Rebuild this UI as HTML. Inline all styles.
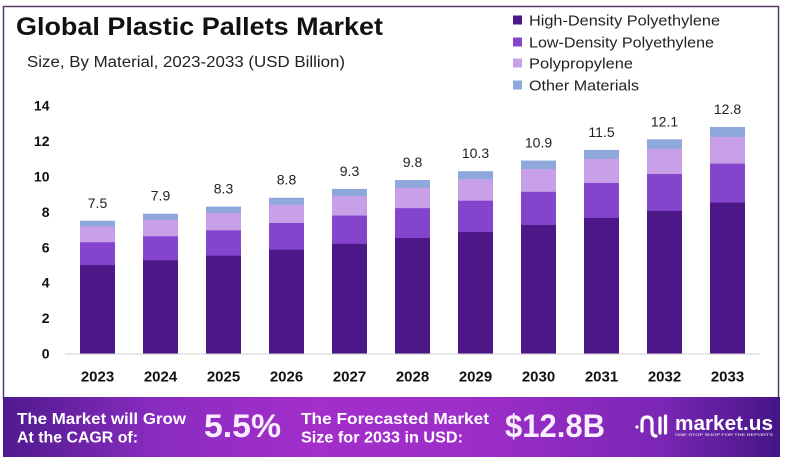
<!DOCTYPE html>
<html>
<head>
<meta charset="utf-8">
<style>
html,body{margin:0;padding:0;background:#fff;}
svg{display:block;}
text{font-family:"Liberation Sans",sans-serif;}
</style>
</head>
<body>
<svg width="785" height="465" viewBox="0 0 785 465" xmlns="http://www.w3.org/2000/svg">
<defs>
<linearGradient id="bn" x1="0" y1="0" x2="1" y2="0">
<stop offset="0" stop-color="#4f1a8e"/>
<stop offset="0.2" stop-color="#8a2cc0"/>
<stop offset="0.4" stop-color="#a32ec9"/>
<stop offset="0.62" stop-color="#9c2ec8"/>
<stop offset="0.85" stop-color="#7a26b4"/>
<stop offset="1" stop-color="#441686"/>
</linearGradient>
</defs>
<rect width="785" height="465" fill="#fff"/>
<!-- frame -->
<rect x="3.5" y="6.5" width="775" height="392" fill="none" stroke="#5a3a6a" stroke-width="1.5"/>

<!-- title -->
<text x="16" y="35" font-size="25" font-weight="bold" fill="#111" textLength="367" lengthAdjust="spacingAndGlyphs">Global Plastic Pallets Market</text>
<text x="27" y="67" font-size="15.5" fill="#222" textLength="318" lengthAdjust="spacingAndGlyphs">Size, By Material, 2023-2033 (USD Billion)</text>

<!-- legend -->
<rect x="513" y="15.5" width="9" height="9" fill="#4c1888"/>
<text x="529" y="25.5" font-size="15" fill="#222" textLength="191" lengthAdjust="spacingAndGlyphs">High-Density Polyethylene</text>
<rect x="513" y="37.5" width="9" height="9" fill="#8444cc"/>
<text x="529" y="47.5" font-size="15" fill="#222" textLength="185" lengthAdjust="spacingAndGlyphs">Low-Density Polyethylene</text>
<rect x="513" y="58.5" width="9" height="9" fill="#c8a0e8"/>
<text x="529" y="68.5" font-size="15" fill="#222" textLength="104" lengthAdjust="spacingAndGlyphs">Polypropylene</text>
<rect x="513" y="80.5" width="9" height="9" fill="#8ea8dc"/>
<text x="529" y="90.5" font-size="15" fill="#222" textLength="110" lengthAdjust="spacingAndGlyphs">Other Materials</text>

<!-- y axis labels -->
<g font-size="14" font-weight="bold" fill="#111" text-anchor="end">
<text x="49.5" y="358.5">0</text>
<text x="49.5" y="323.1">2</text>
<text x="49.5" y="287.7">4</text>
<text x="49.5" y="252.3">6</text>
<text x="49.5" y="216.9">8</text>
<text x="49.5" y="181.5">10</text>
<text x="49.5" y="146.1">12</text>
<text x="49.5" y="110.7">14</text>
</g>

<!-- baseline -->
<line x1="65" y1="354" x2="760" y2="354" stroke="#d0d0d0" stroke-width="1"/>

<!-- bars -->
<g>
<!-- 2023 -->
<rect x="80" y="220.75" width="35" height="132.75" fill="#8ea8dc"/>
<rect x="80" y="226.6" width="35" height="126.9" fill="#c8a0e8"/>
<rect x="80" y="242.26" width="35" height="111.24" fill="#8444cc"/>
<rect x="80" y="265.09" width="35" height="88.41" fill="#4c1888"/>
<!-- 2024 -->
<rect x="143" y="213.67" width="35" height="139.83" fill="#8ea8dc"/>
<rect x="143" y="219.82" width="35" height="133.68" fill="#c8a0e8"/>
<rect x="143" y="236.32" width="35" height="117.18" fill="#8444cc"/>
<rect x="143" y="260.37" width="35" height="93.13" fill="#4c1888"/>
<!-- 2025 -->
<rect x="206" y="206.59" width="35" height="146.91" fill="#8ea8dc"/>
<rect x="206" y="213.05" width="35" height="140.45" fill="#c8a0e8"/>
<rect x="206" y="230.39" width="35" height="123.11" fill="#8444cc"/>
<rect x="206" y="255.66" width="35" height="97.84" fill="#4c1888"/>
<!-- 2026 -->
<rect x="269" y="197.74" width="35" height="155.76" fill="#8ea8dc"/>
<rect x="269" y="204.59" width="35" height="148.91" fill="#c8a0e8"/>
<rect x="269" y="222.97" width="35" height="130.53" fill="#8444cc"/>
<rect x="269" y="249.76" width="35" height="103.74" fill="#4c1888"/>
<!-- 2027 -->
<rect x="332" y="188.89" width="35" height="164.61" fill="#8ea8dc"/>
<rect x="332" y="196.14" width="35" height="157.36" fill="#c8a0e8"/>
<rect x="332" y="215.56" width="35" height="137.94" fill="#8444cc"/>
<rect x="332" y="243.87" width="35" height="109.63" fill="#4c1888"/>
<!-- 2028 -->
<rect x="395" y="180.04" width="35" height="173.46" fill="#8ea8dc"/>
<rect x="395" y="187.67" width="35" height="165.83" fill="#c8a0e8"/>
<rect x="395" y="208.14" width="35" height="145.36" fill="#8444cc"/>
<rect x="395" y="237.98" width="35" height="115.52" fill="#4c1888"/>
<!-- 2029 -->
<rect x="458" y="171.19" width="35" height="182.31" fill="#8ea8dc"/>
<rect x="458" y="179.21" width="35" height="174.29" fill="#c8a0e8"/>
<rect x="458" y="200.72" width="35" height="152.78" fill="#8444cc"/>
<rect x="458" y="232.08" width="35" height="121.42" fill="#4c1888"/>
<!-- 2030 -->
<rect x="521" y="160.57" width="35" height="192.93" fill="#8ea8dc"/>
<rect x="521" y="169.06" width="35" height="184.44" fill="#c8a0e8"/>
<rect x="521" y="191.83" width="35" height="161.67" fill="#8444cc"/>
<rect x="521" y="225.01" width="35" height="128.49" fill="#4c1888"/>
<!-- 2031 -->
<rect x="584" y="149.95" width="35" height="203.55" fill="#8ea8dc"/>
<rect x="584" y="158.91" width="35" height="194.59" fill="#c8a0e8"/>
<rect x="584" y="182.93" width="35" height="170.57" fill="#8444cc"/>
<rect x="584" y="217.94" width="35" height="135.56" fill="#4c1888"/>
<!-- 2032 -->
<rect x="647" y="139.33" width="35" height="214.17" fill="#8ea8dc"/>
<rect x="647" y="148.75" width="35" height="204.75" fill="#c8a0e8"/>
<rect x="647" y="174.02" width="35" height="179.48" fill="#8444cc"/>
<rect x="647" y="210.86" width="35" height="142.64" fill="#4c1888"/>
<!-- 2033 -->
<rect x="710" y="126.94" width="35" height="226.56" fill="#8ea8dc"/>
<rect x="710" y="136.91" width="35" height="216.59" fill="#c8a0e8"/>
<rect x="710" y="163.64" width="35" height="189.86" fill="#8444cc"/>
<rect x="710" y="202.61" width="35" height="150.89" fill="#4c1888"/>
</g>

<!-- value labels -->
<g font-size="14" fill="#222" text-anchor="middle">
<text x="97.5" y="207.75">7.5</text>
<text x="160.5" y="200.67">7.9</text>
<text x="223.5" y="193.59">8.3</text>
<text x="286.5" y="184.74">8.8</text>
<text x="349.5" y="175.89">9.3</text>
<text x="412.5" y="167.04">9.8</text>
<text x="475.5" y="158.19">10.3</text>
<text x="538.5" y="147.57">10.9</text>
<text x="601.5" y="136.95">11.5</text>
<text x="664.5" y="126.33">12.1</text>
<text x="727.5" y="113.94">12.8</text>
</g>

<!-- year labels -->
<g font-size="15" font-weight="bold" fill="#111" text-anchor="middle">
<text x="97.5" y="381.5">2023</text>
<text x="160.5" y="381.5">2024</text>
<text x="223.5" y="381.5">2025</text>
<text x="286.5" y="381.5">2026</text>
<text x="349.5" y="381.5">2027</text>
<text x="412.5" y="381.5">2028</text>
<text x="475.5" y="381.5">2029</text>
<text x="538.5" y="381.5">2030</text>
<text x="601.5" y="381.5">2031</text>
<text x="664.5" y="381.5">2032</text>
<text x="727.5" y="381.5">2033</text>
</g>

<!-- banner -->
<rect x="3" y="397" width="777" height="60" fill="url(#bn)"/>
<g fill="#ffffff" font-weight="bold">
<text x="17" y="424" font-size="16" textLength="169" lengthAdjust="spacingAndGlyphs">The Market will Grow</text>
<text x="17" y="442.7" font-size="16" textLength="121" lengthAdjust="spacingAndGlyphs">At the CAGR of:</text>
<text x="204" y="437" font-size="32" fill="#fbeefe" textLength="77" lengthAdjust="spacingAndGlyphs">5.5%</text>
<text x="301" y="424" font-size="16" textLength="188" lengthAdjust="spacingAndGlyphs">The Forecasted Market</text>
<text x="301" y="442.7" font-size="16" textLength="162" lengthAdjust="spacingAndGlyphs">Size for 2033 in USD:</text>
<text x="505" y="437" font-size="32" fill="#fbeefe" textLength="100" lengthAdjust="spacingAndGlyphs">$12.8B</text>
<text x="675" y="430" font-size="20" textLength="98" lengthAdjust="spacingAndGlyphs">market.us</text>
<text x="675" y="436" font-size="4" font-weight="normal" textLength="98" lengthAdjust="spacingAndGlyphs">ONE STOP SHOP FOR THE REPORTS</text>
</g>
<!-- logo icon -->
<g fill="none" stroke="#ffffff" stroke-width="3.2" stroke-linecap="round">
<circle cx="637" cy="427" r="1.6" fill="#fff" stroke="none"/>
<path d="M642 431 L642 423 Q642 417 647 417 Q652 417 652 423 L652 431 Q652 436 656 436"/>
<line x1="660" y1="418" x2="660" y2="433"/>
<line x1="665.5" y1="416" x2="665.5" y2="433"/>
</g>
</svg>
</body>
</html>
